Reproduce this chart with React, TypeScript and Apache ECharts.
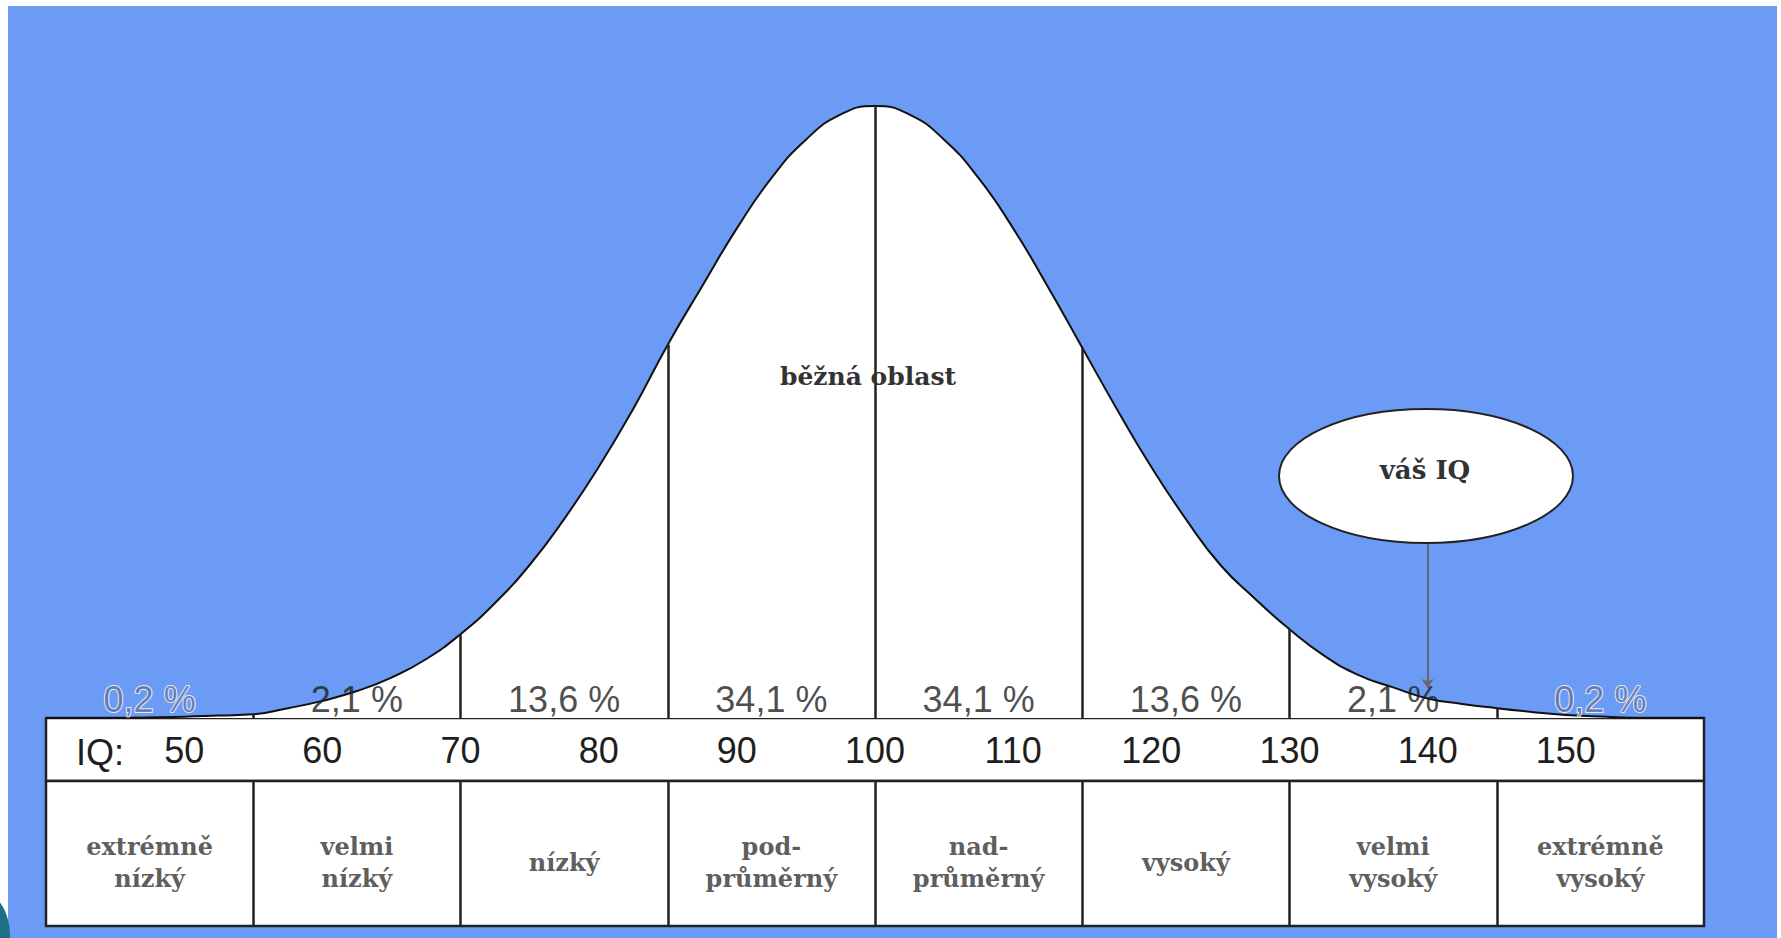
import React, { useEffect, useRef } from "react";
import * as echarts from "echarts";

// IQ positions along the curve and the curve height (peak = 100)
const iqPoints = [
  40, 42.5, 45, 47.5, 50, 52.5, 55, 57.5, 60, 62.5, 65, 67.5, 70, 72.5, 75, 77.5, 80, 82.5, 85, 87.5, 90, 92.5, 95, 97.5,
  100, 102.5, 105, 107.5, 110, 112.5, 115, 117.5, 120, 122.5, 125, 127.5, 130, 132.5, 135, 137.5, 140, 142.5, 145, 147.5,
  150, 152.5, 155, 157.5, 160,
];
const curveHeights = [
  0, 0, 0, 0.1, 0.2, 0.4, 0.6, 1.6, 2.8, 4.4, 6.6, 9.6, 13.7, 18.8, 25, 32.5, 41, 50.5, 61, 70.6, 80, 88.2, 94.5, 98.6,
  100, 98.6, 94.5, 88.2, 80, 70.5, 60.5, 50.5, 41, 32.5, 25, 19.5, 14.5, 10.2, 7, 5, 3.2, 2.3, 1.6, 1, 0.5, 0.25, 0, 0, 0,
];

// band borders and band contents
const cutoffs = [55, 70, 85, 100, 115, 130, 145];
const bandCenters = [47.5, 62.5, 77.5, 92.5, 107.5, 122.5, 137.5, 152.5];
const bandPercents = ["0,2 %", "2,1 %", "13,6 %", "34,1 %", "34,1 %", "13,6 %", "2,1 %", "0,2 %"];
const bandNames = [
  "extrémně\nnízký",
  "velmi\nnízký",
  "nízký",
  "pod-\nprůměrný",
  "nad-\nprůměrný",
  "vysoký",
  "velmi\nvysoký",
  "extrémně\nvysoký",
];
const iqTicks = [50, 60, 70, 80, 90, 100, 110, 120, 130, 140, 150];

// callout "váš IQ"
const yourIQ = 140;
const calloutFrom = 28.6;
const calloutTo = 4.9;

const heightAt = (iq: number) => curveHeights[iqPoints.indexOf(iq)];

const SERIF = "DejaVu Serif";
const SANS = "Liberation Sans";

export default function App() {
  const ref = useRef<HTMLDivElement>(null);

  useEffect(() => {
    if (!ref.current) return;
    const chart = echarts.init(ref.current, undefined, { renderer: "svg" });

    const gridLR = { left: 46, right: 77 };

    const option: any = {
      animation: false,
      backgroundColor: "#ffffff",
      grid: [
        { ...gridLR, top: 106, bottom: 220, show: false },
        { ...gridLR, top: 718, bottom: 157, show: true, backgroundColor: "#ffffff", borderColor: "#222", borderWidth: 2.5 },
        { ...gridLR, top: 781, bottom: 12, show: true, backgroundColor: "#ffffff", borderColor: "#222", borderWidth: 2.5 },
      ],
      xAxis: [
        {
          type: "value",
          gridIndex: 0,
          min: 40,
          max: 160,
          interval: 10,
          axisLine: { show: false },
          axisTick: { show: false },
          splitLine: { show: false },
          axisLabel: {
            show: true,
            margin: 14,
            fontFamily: SANS,
            fontSize: 36,
            color: "#1e1e1e",
            formatter: (v: number) => (iqTicks.includes(v) ? String(v) : ""),
          },
          z: 5,
        },
        { type: "value", gridIndex: 1, min: 40, max: 160, show: false },
        { type: "value", gridIndex: 2, min: 40, max: 160, show: false },
      ],
      yAxis: [
        { type: "value", gridIndex: 0, min: 0, max: 100, show: false },
        { type: "value", gridIndex: 1, min: 0, max: 1, show: false },
        { type: "value", gridIndex: 2, min: 0, max: 1, show: false },
      ],
      series: [
        {
          name: "curve",
          type: "line",
          xAxisIndex: 0,
          yAxisIndex: 0,
          data: iqPoints.map((x, i) => [x, curveHeights[i]]),
          smooth: 0.5,
          symbol: "none",
          lineStyle: { color: "#111", width: 2 },
          areaStyle: { color: "#ffffff", opacity: 1 },
          z: 3,
          markLine: {
            silent: true,
            symbol: "none",
            label: { show: false },
            lineStyle: { color: "#222", width: 2.5, type: "solid" },
            data: [
              ...cutoffs.map((c) => [{ coord: [c, 0] }, { coord: [c, heightAt(c)] }]),
              [
                { coord: [yourIQ, calloutFrom], symbol: "none" },
                {
                  coord: [yourIQ, calloutTo],
                  symbol: "arrow",
                  symbolSize: 9,
                  lineStyle: { color: "#666", width: 2, type: "solid" },
                },
              ],
            ],
          },
        },
        {
          name: "percent",
          type: "scatter",
          xAxisIndex: 0,
          yAxisIndex: 0,
          symbolSize: 1,
          itemStyle: { color: "rgba(0,0,0,0)" },
          z: 6,
          data: bandCenters.map((c, i) => {
            const tail = i === 0 || i === bandCenters.length - 1;
            return {
              value: [c, 0],
              label: tail
                ? { color: "#56699a", textBorderColor: "#ffffff", textBorderWidth: 2 }
                : { color: "#1e1e1e" },
            };
          }),
          label: {
            show: true,
            position: "top",
            distance: 0,
            fontFamily: SANS,
            fontSize: 36,
            formatter: (p: any) => bandPercents[p.dataIndex],
          },
        },
        {
          name: "categories",
          type: "scatter",
          xAxisIndex: 2,
          yAxisIndex: 2,
          symbolSize: 1,
          itemStyle: { color: "rgba(0,0,0,0)" },
          z: 6,
          data: bandCenters.map((c) => [c, 0.5]),
          label: {
            show: true,
            position: "inside",
            offset: [0, 9],
            fontFamily: SERIF,
            fontWeight: "bold",
            fontSize: 24,
            lineHeight: 32,
            color: "#333",
            align: "center",
            formatter: (p: any) => bandNames[p.dataIndex],
          },
          markLine: {
            silent: true,
            symbol: "none",
            label: { show: false },
            lineStyle: { color: "#222", width: 2.5, type: "solid" },
            data: cutoffs.map((c) => ({ xAxis: c })),
          },
        },
      ],
      graphic: [
        {
          type: "rect",
          z: -10,
          silent: true,
          shape: { x: 8, y: 6, width: 1769, height: 932 },
          style: { fill: "#6b9bf4" },
        },
        {
          type: "ellipse",
          z: -5,
          silent: true,
          shape: { cx: -20, cy: 936, rx: 30, ry: 45 },
          style: { fill: "#1d6f86" },
        },
        {
          type: "text",
          z: 10,
          x: 868,
          y: 376,
          style: {
            text: "běžná oblast",
            fontFamily: SERIF,
            fontWeight: "bold",
            fontSize: 25,
            fill: "#333",
            align: "center",
            verticalAlign: "middle",
          },
        },
        {
          type: "ellipse",
          z: 10,
          shape: { cx: 1426, cy: 476, rx: 147, ry: 67 },
          style: { fill: "#ffffff", stroke: "#222", lineWidth: 2 },
        },
        {
          type: "text",
          z: 11,
          x: 1425,
          y: 470,
          style: {
            text: "váš IQ",
            fontFamily: SERIF,
            fontWeight: "bold",
            fontSize: 26,
            fill: "#333",
            align: "center",
            verticalAlign: "middle",
          },
        },
        {
          type: "text",
          z: 10,
          x: 100,
          y: 752,
          style: {
            text: "IQ:",
            fontFamily: SANS,
            fontSize: 36,
            fill: "#1e1e1e",
            align: "center",
            verticalAlign: "middle",
          },
        },
      ],
    };

    chart.setOption(option);
    return () => chart.dispose();
  }, []);

  return (
    <div
      ref={ref}
      style={{ position: "absolute", left: 0, top: 0, width: 1781, height: 938 }}
    />
  );
}
